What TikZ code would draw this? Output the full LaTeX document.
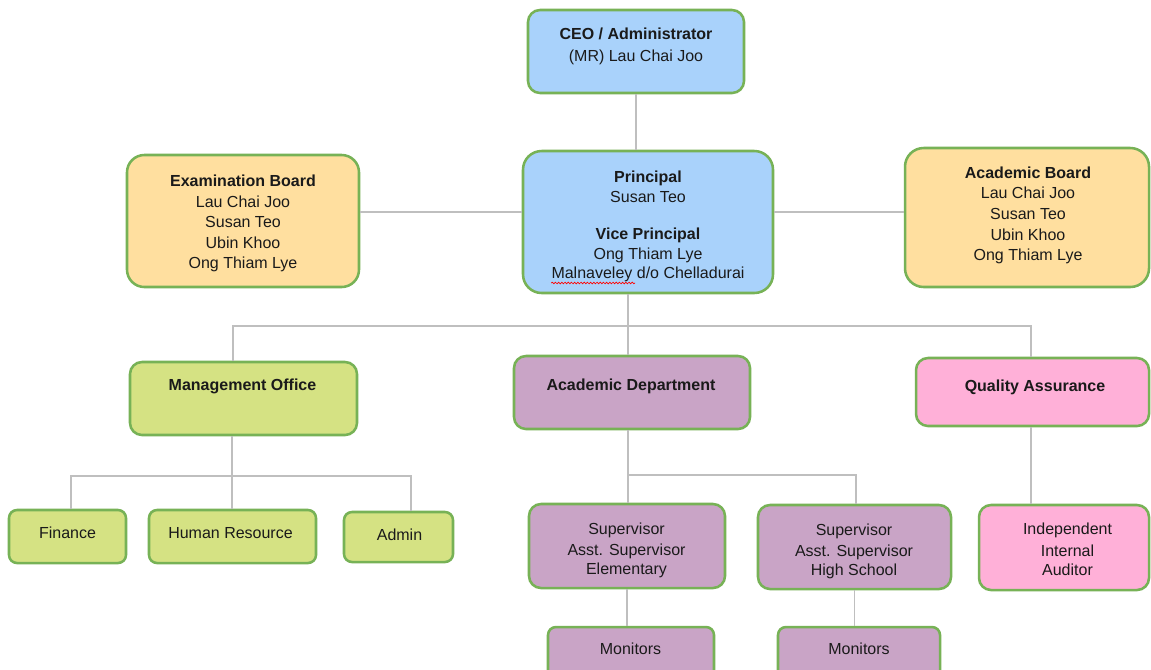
\documentclass[tikz,border=0pt]{standalone}
\usepackage{fontspec}
\setmainfont{Liberation Sans}
\usetikzlibrary{fit,decorations.pathmorphing}
\definecolor{bdr}{HTML}{77B256}
\definecolor{lineg}{HTML}{BFBFBF}
\definecolor{blue1}{HTML}{A9D2FB}
\definecolor{orng}{HTML}{FFDF9F}
\definecolor{grn}{HTML}{D5E283}
\definecolor{purp}{HTML}{C9A4C6}
\definecolor{pnk}{HTML}{FFB0D8}
\definecolor{txt}{HTML}{1A1A1A}
\tikzset{
  orgbox/.style={draw=bdr, line width=1.9pt, inner sep=0pt, rounded corners=#1},
  orgbox/.default=9pt,
  conn/.style={draw=lineg, line width=1.1pt},
  lbl/.style={anchor=base, inner sep=0pt, text=txt, font=\fontsize{12pt}{14pt}\selectfont},
  ttl/.style={anchor=base, inner sep=0pt, text=txt, font=\fontsize{12pt}{14pt}\selectfont\bfseries}
}
\begin{document}
\begin{tikzpicture}[x=0.75pt,y=-0.75pt]
\useasboundingbox[fill=white] (0,0) rectangle (1151,669);

% boxes
\node[orgbox=9pt, fill=blue1, fit={(528,10) (744,93)}] (ceo) {};
\node[orgbox=14pt, fill=blue1, fit={(523,151) (773,293)}] (prin) {};
\node[orgbox=13pt, fill=orng, fit={(127,155) (359,287)}] (exam) {};
\node[orgbox=14pt, fill=orng, fit={(905,148) (1149,287)}] (acb) {};
\node[orgbox=9pt, fill=grn, fit={(130,362) (357,435)}] (mgmt) {};
\node[orgbox=9pt, fill=purp, fit={(514,356) (750,429)}] (adept) {};
\node[orgbox=9pt, fill=pnk, fit={(916,358) (1149,426)}] (qa) {};
\node[orgbox=6pt, fill=grn, fit={(9,510) (126,563)}] (fin) {};
\node[orgbox=6pt, fill=grn, fit={(149,510) (316,563)}] (hr) {};
\node[orgbox=6pt, fill=grn, fit={(344,512) (453,562)}] (adm) {};
\node[orgbox=9pt, fill=purp, fit={(529,504) (725,588)}] (elem) {};
\node[orgbox=9pt, fill=purp, fit={(758,505) (951,589)}] (hs) {};
\node[orgbox=9pt, fill=pnk, fit={(979,505) (1149,590)}] (ind) {};
\node[orgbox=6pt, fill=purp, fit={(548,627) (714,690)}] (mon1) {};
\node[orgbox=6pt, fill=purp, fit={(778,627) (940,690)}] (mon2) {};

% connector coordinates
\coordinate (y1) at (0,212);
\coordinate (h1) at (628,326);
\coordinate (xm) at (233,326);
\coordinate (xq) at (1031,326);
\coordinate (h2) at (232,476);
\coordinate (xf) at (71,476);
\coordinate (xa) at (411,476);
\coordinate (h3) at (628,475);
\coordinate (xh) at (856,475);

% connectors
\draw[conn] (ceo.south) -- (ceo.south |- prin.north);
\draw[conn] (exam.east |- y1) -- (prin.west |- y1);
\draw[conn] (prin.east |- y1) -- (acb.west |- y1);
\draw[conn] (prin.south -| h1) -- (adept.north -| h1);
\draw[conn] (mgmt.north -| xm) -- (xm) -- (xq) -- (qa.north -| xq);
\draw[conn] (mgmt.south -| h2) -- (hr.north -| h2);
\draw[conn] (fin.north -| xf) -- (xf) -- (xa) -- (adm.north -| xa);
\draw[conn] (adept.south -| h3) -- (elem.north -| h3);
\draw[conn] (h3) -- (xh) -- (hs.north -| xh);
\draw[conn] (qa.south -| xq) -- (ind.north -| xq);
\draw[conn] (elem.south) -- (elem.south |- mon1.north);
\draw[conn] (hs.south) -- (hs.south |- mon2.north);

% texts
\node[ttl] (ceo-a) at (636,39) {CEO / Administrator};
\node[lbl] (ceo-b) at (636,61) {(MR) Lau Chai Joo};

\node[ttl] (prin-a) at (648,182) {Principal};
\node[lbl] (prin-b) at (648,202) {Susan Teo};
\node[ttl] (prin-c) at (648,239) {Vice Principal};
\node[lbl] (prin-d) at (648,259) {Ong Thiam Lye};
\node[lbl] (prin-e) at (648,278) {Malnaveley d/o Chelladurai};
\draw[red, line width=0.5pt, decorate, decoration={snake, amplitude=0.6pt, segment length=2.4pt}] (prin-e.base west) ++(0,5) coordinate (sq1) -- ++(84,0) coordinate (sq2);

\node[ttl] (exam-a) at (243,186) {Examination Board};
\node[lbl] (exam-b) at (243,207) {Lau Chai Joo};
\node[lbl] (exam-c) at (243,227) {Susan Teo};
\node[lbl] (exam-d) at (243,248) {Ubin Khoo};
\node[lbl] (exam-e) at (243,268) {Ong Thiam Lye};

\node[ttl] (acb-a) at (1028,178) {Academic Board};
\node[lbl] (acb-b) at (1028,198) {Lau Chai Joo};
\node[lbl] (acb-c) at (1028,219) {Susan Teo};
\node[lbl] (acb-d) at (1028,240) {Ubin Khoo};
\node[lbl] (acb-e) at (1028,260) {Ong Thiam Lye};

\node[ttl] (mgmt-a) at (242.5,390) {Management Office};
\node[ttl] (adept-a) at (631,390) {Academic Department};
\node[ttl] (qa-a) at (1035,391) {Quality Assurance};

\node[lbl] (fin-a) at (67.5,538) {Finance};
\node[lbl] (hr-a) at (230.5,538) {Human Resource};
\node[lbl] (adm-a) at (399.5,540) {Admin};

\node[lbl] (elem-a) at (626.5,534) {Supervisor};
\node[lbl] (elem-b) at (626.5,555) {Asst. Supervisor};
\node[lbl] (elem-c) at (626.5,574) {Elementary};

\node[lbl] (hs-a) at (854,535) {Supervisor};
\node[lbl] (hs-b) at (854,556) {Asst. Supervisor};
\node[lbl] (hs-c) at (854,575) {High School};

\node[lbl] (ind-a) at (1067.5,534) {Independent};
\node[lbl] (ind-b) at (1067.5,556) {Internal};
\node[lbl] (ind-c) at (1067.5,575) {Auditor};

\node[lbl] (mon1-a) at (630.5,654) {Monitors};
\node[lbl] (mon2-a) at (859,654) {Monitors};
\end{tikzpicture}
\end{document}
